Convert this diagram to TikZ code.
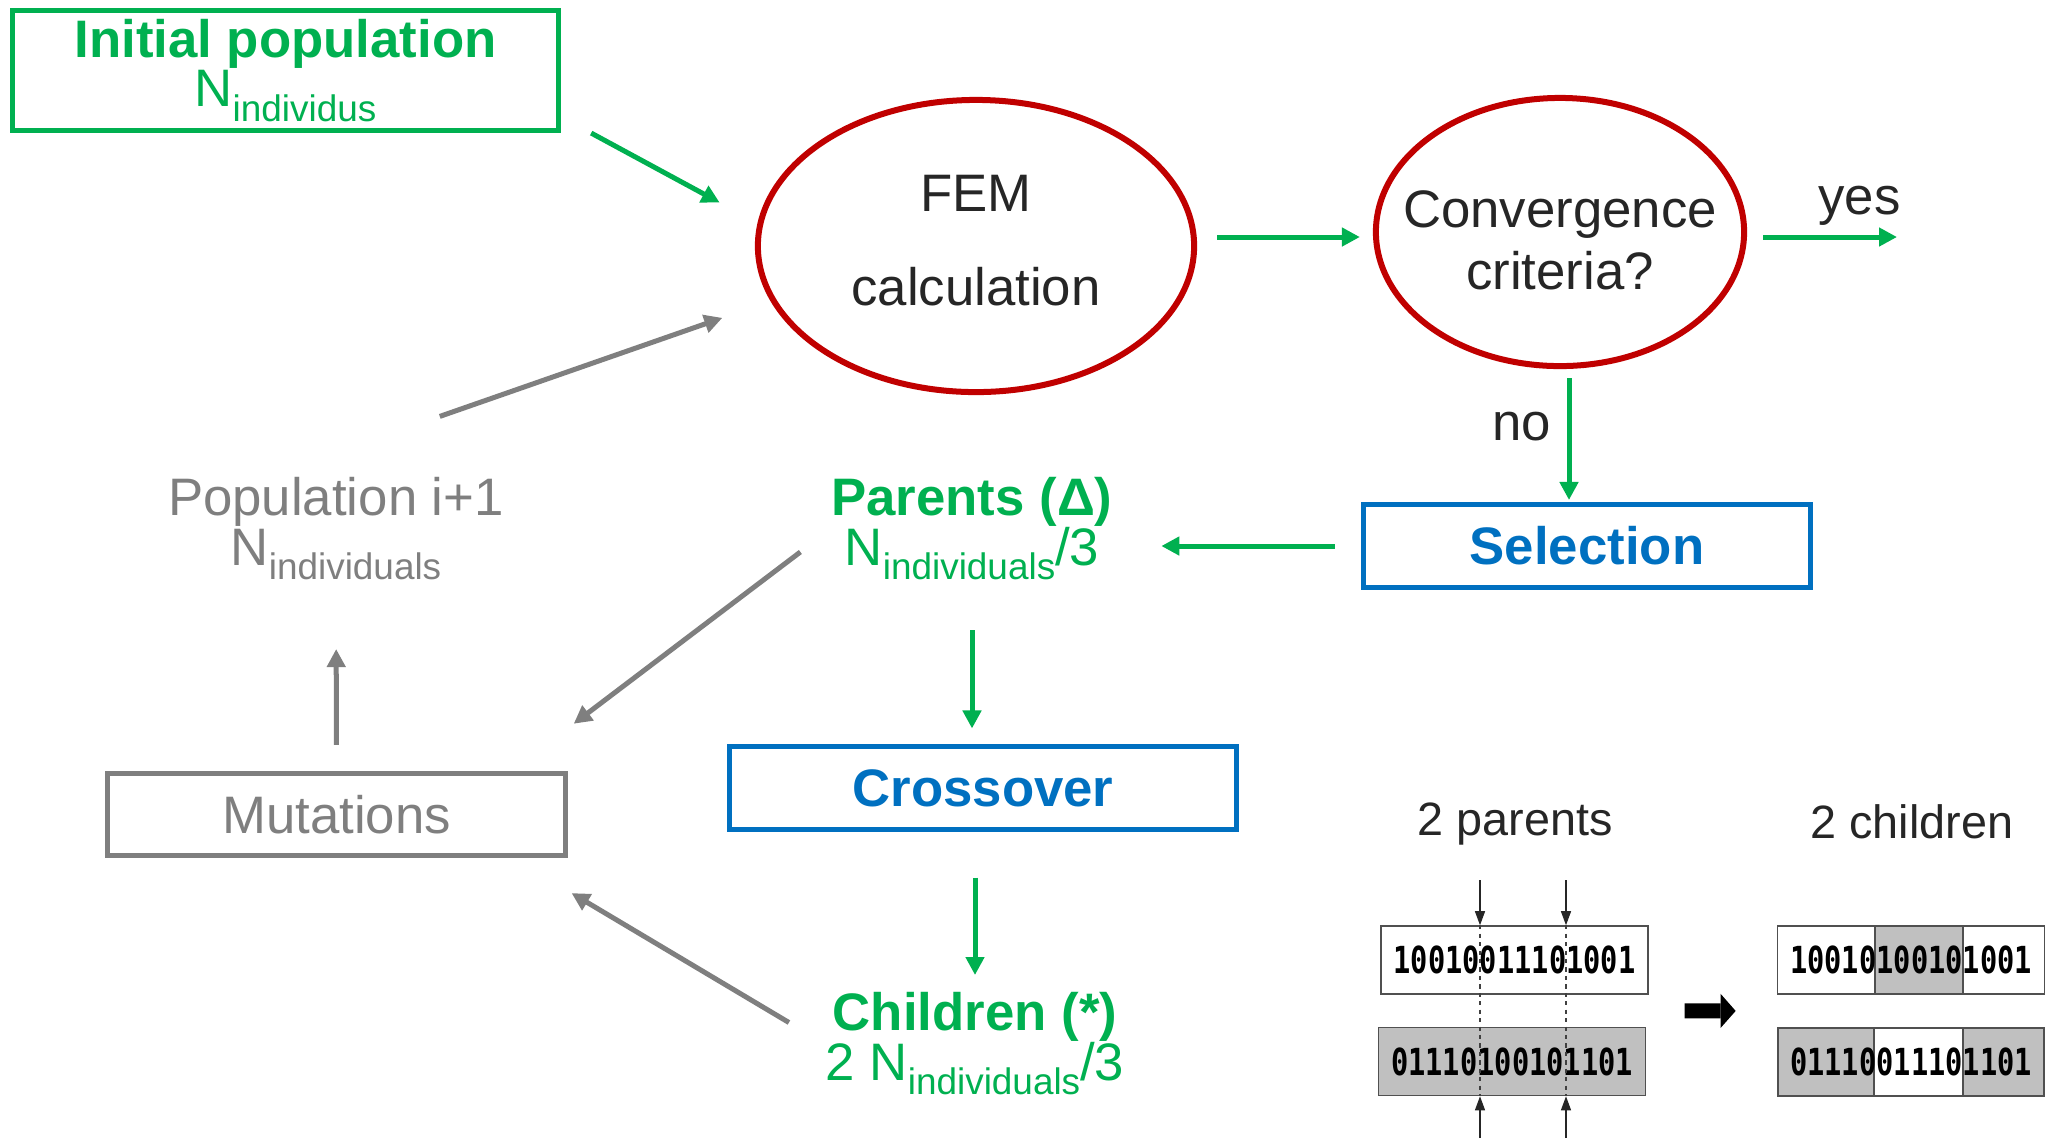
\documentclass[tikz,border=0pt]{standalone}
\usepackage{fontspec}
\setmainfont{Liberation Sans}
\newfontfamily\bitfont[FakeStretch=0.77]{DejaVu Sans Mono}
\usetikzlibrary{arrows.meta,shapes.geometric,calc}
\definecolor{ggreen}{HTML}{00B050}
\definecolor{dred}{HTML}{C00000}
\definecolor{bblue}{HTML}{0070C0}
\definecolor{mgray}{HTML}{7F7F7F}
\definecolor{ink}{HTML}{262626}
\definecolor{bitgray}{HTML}{C0C0C0}
\definecolor{bitline}{HTML}{505050}
\newcommand{\Nind}[1]{N\raisebox{-4.2pt}{\fontsize{10.5}{12}\selectfont #1}}

\begin{document}
\begin{tikzpicture}[x=0.01cm,y=0.01cm,
  txt/.style={font=\fontsize{15}{14}\selectfont,align=center,inner sep=0pt},
  lbl/.style={font=\fontsize{15}{18}\selectfont,text=ink,inner sep=0pt},
  stagebox/.style={draw,line width=0.05cm,font=\fontsize{15}{18}\selectfont,minimum height=0.83cm},
  fitness/.style={ellipse,draw=dred,line width=0.06cm,text=ink,align=center,inner sep=0pt},
  garrow/.style={ggreen,line width=0.05cm,-{Triangle[length=0.18cm,width=0.18cm]}},
  grarrow/.style={mgray,line width=0.05cm,-{Triangle[length=0.18cm,width=0.18cm]}},
  bitbox/.style={draw=bitline,line width=0.015cm,minimum width=2.67cm,minimum height=0.68cm,inner sep=0pt,font=\bitfont\bfseries\fontsize{10.6}{12}\selectfont},
  cutarrow/.style={black!85,line width=0.012cm,-{Triangle[length=0.14cm,width=0.1cm]}},
  cutline/.style={black!75,line width=0.012cm,dash pattern=on 1.2pt off 1.2pt},
  bigarrow/.style={black,line width=0.15cm,-{Triangle[length=0.15cm,width=0.34cm,line width=0pt]}}
]
\useasboundingbox (0,0) rectangle (2060,-1138);

\node[txt,draw=ggreen,line width=0.05cm,text=ggreen,minimum width=5.46cm,minimum height=1.20cm] (init) at (285.5,-70.5) {\textbf{Initial population}\\\Nind{individus}};
\node[fitness,minimum width=4.36cm,minimum height=2.92cm,font=\fontsize{15}{26.7}\selectfont] (fem) at (976,-246) {FEM\\calculation\vphantom{g}};
\node[fitness,minimum width=3.68cm,minimum height=2.68cm,inner xsep=-0.5cm,font=\fontsize{15}{17.6}\selectfont] (conv) at (1560,-232) {\rule{0pt}{15pt}Convergence\\criteria?};
\node[stagebox,draw=bblue,text=bblue,minimum width=4.47cm,font=\fontsize{15}{18}\selectfont\bfseries] (sel) at (1587,-546) {Selection};
\node[txt,text=ggreen] (par) at (972,-529) {\textbf{Parents (Δ)}\\\Nind{individuals}/3};
\node[stagebox,draw=bblue,text=bblue,minimum width=5.07cm,minimum height=0.82cm,font=\fontsize{15}{18}\selectfont\bfseries] (cross) at (983,-788) {Crossover};
\node[txt,text=ggreen] (chi) at (975,-1044) {\textbf{Children (*)}\\2 \Nind{individuals}/3};
\node[stagebox,draw=mgray,text=mgray,minimum width=4.58cm,minimum height=0.82cm] (mut) at (336.5,-814.5) {Mutations};
\node[txt,text=mgray] (pop) at (336,-529) {Population i+1\\\Nind{individuals}};
\coordinate (done) at (1897,-237);

\draw[garrow,shorten >=0.43cm] ([xshift=0.3cm]init.south east) -- (fem.174);
\draw[garrow,shorten <=0.2cm,shorten >=0.13cm] (fem.east |- done) -- (conv.west |- done);
\draw[garrow,shorten <=0.16cm] (conv.east |- done) -- (done) node[lbl,pos=0.75,above=0.9mm] (yes) {yes};
\draw[garrow,shorten <=0.09cm,shorten >=0.02cm] ([xshift=0.09cm]conv.south) -- ([xshift=0.09cm]conv.south |- sel.north) node[lbl,pos=0.43,left=1.55mm] (no) {no};
\draw[garrow,shorten <=0.26cm,shorten >=0.48cm] (sel.west) -- (sel.west -| par.east);
\draw[garrow,shorten <=0.49cm,shorten >=0.16cm] (par.south) -- (par.south |- cross.north);
\draw[garrow,shorten <=0.46cm,shorten >=0.17cm] (chi.north |- cross.south) -- (chi.north);
\draw[grarrow,shorten <=0.42cm,shorten >=0.04cm] (chi.west) -- ([yshift=-0.33cm]mut.south east);
\draw[grarrow,shorten <=0.38cm,shorten >=0.07cm] (par.west) -- ([yshift=0.43cm]mut.north east);
\draw[grarrow,shorten <=0.26cm,shorten >=0.68cm] (mut.north) -- (pop.south);
\draw[grarrow,shorten <=1.84cm,shorten >=0.51cm] ([xshift=-0.7cm]pop.north) -- (fem.195);

\node[lbl,font=\fontsize{13.3}{16}\selectfont] (twopar) at (1515,-824) {2 parents};
\node[lbl,font=\fontsize{13.3}{16}\selectfont] (twochi) at (1912,-822) {2 children};

\fill[bitgray,draw=bitline,line width=0.015cm] (1875,-926) rectangle (1963,-994);
\fill[bitgray,draw=bitline,line width=0.015cm] (1778,-1028) rectangle (1874,-1096);
\fill[bitgray,draw=bitline,line width=0.015cm] (1963,-1028) rectangle (2044,-1096);
\node[bitbox] (p1) at (1514.5,-960) {10010011101001};
\node[bitbox,fill=bitgray] (p2) at (1512,-1061.5) {01110100101101};
\node[bitbox] (c1) at (1911,-960) {10010100101001};
\node[bitbox] (c2) at (1911,-1062) {01110011101101};

\coordinate (cutA) at (1480,-880);
\coordinate (cutB) at (1566,-880);
\coordinate (cutC) at (1480,-1138);
\coordinate (cutD) at (1566,-1138);
\draw[cutarrow] (cutA) -- (cutA |- p1.north);
\draw[cutarrow] (cutB) -- (cutB |- p1.north);
\draw[cutarrow] (cutC) -- (cutC |- p2.south);
\draw[cutarrow] (cutD) -- (cutD |- p2.south);
\draw[cutline] (cutA |- p1.north) -- (cutA |- p2.south);
\draw[cutline] (cutB |- p1.north) -- (cutB |- p2.south);
\draw[bigarrow,shorten <=0.37cm,shorten >=0.41cm] ($(p1.south east)!0.5!(p2.north east)$) -- ($(c1.south west)!0.5!(c2.north west)$);
\end{tikzpicture}
\end{document}
